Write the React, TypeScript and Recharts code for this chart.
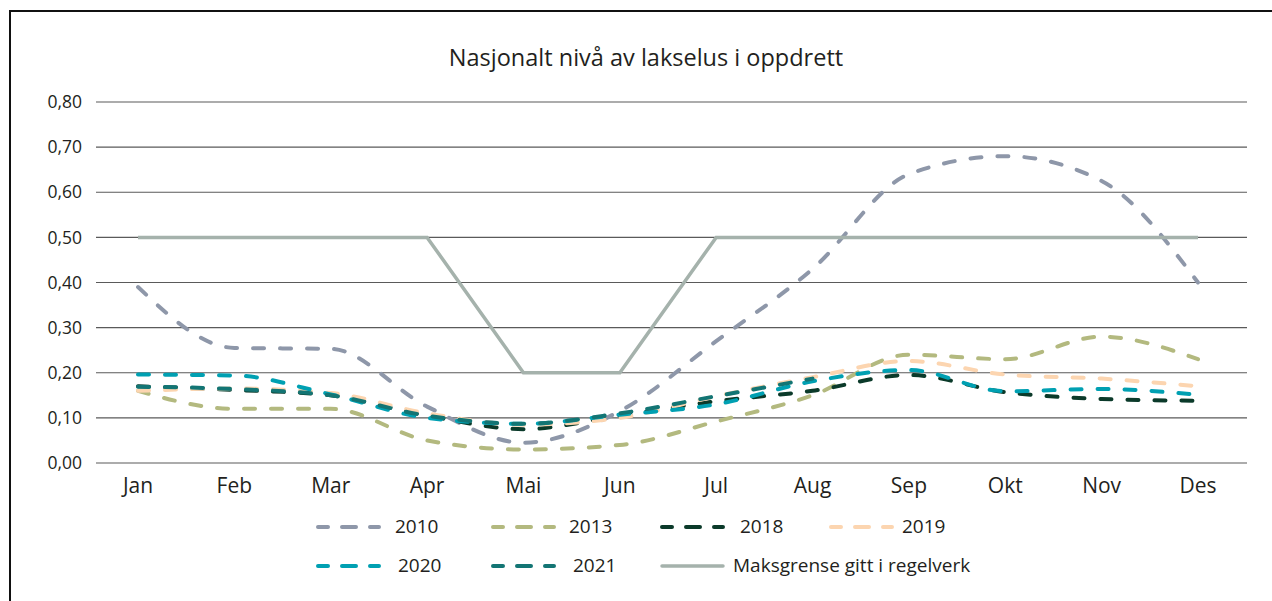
import React from 'react';
import { LineChart, Line, XAxis, YAxis, CartesianGrid } from 'recharts';

const months = ['Jan', 'Feb', 'Mar', 'Apr', 'Mai', 'Jun', 'Jul', 'Aug', 'Sep', 'Okt', 'Nov', 'Des'];
const y2010 = [0.39, 0.255, 0.253, 0.125, 0.045, 0.115, 0.27, 0.43, 0.64, 0.68, 0.625, 0.4];
const y2013 = [0.16, 0.12, 0.12, 0.05, 0.03, 0.04, 0.092, 0.15, 0.24, 0.23, 0.28, 0.23];
const y2018 = [0.17, 0.162, 0.15, 0.105, 0.075, 0.105, 0.137, 0.16, 0.195, 0.157, 0.142, 0.138];
const y2019 = [0.16, 0.165, 0.155, 0.11, 0.085, 0.1, 0.148, 0.19, 0.226, 0.196, 0.187, 0.17];
const y2020 = [0.196, 0.194, 0.152, 0.1, 0.087, 0.107, 0.13, 0.181, 0.206, 0.159, 0.164, 0.151];
const y2021 = [0.169, 0.164, 0.15, 0.105, 0.087, 0.11, 0.148, 0.187, null, null, null, null];
const maksgrense = [0.5, 0.5, 0.5, 0.5, 0.2, 0.2, 0.5, 0.5, 0.5, 0.5, 0.5, 0.5];
const yTicks = [0, 0.1, 0.2, 0.3, 0.4, 0.5, 0.6, 0.7, 0.8];
const title = 'Nasjonalt nivå av lakselus i oppdrett';

const seriesNames = ['2010', '2013', '2018', '2019', '2020', '2021', 'Maksgrense gitt i regelverk'];
const seriesKeys = ['y2010', 'y2013', 'y2018', 'y2019', 'y2020', 'y2021', 'maks'];

const data = months.map((m, i) => ({
  month: m,
  y2010: y2010[i],
  y2013: y2013[i],
  y2018: y2018[i],
  y2019: y2019[i],
  y2020: y2020[i],
  y2021: y2021[i],
  maks: maksgrense[i],
}));

const colors: Record<string, string> = {
  y2010: '#8e97a9',
  y2013: '#b3b97f',
  y2018: '#0b3a2a',
  y2019: '#fcd5b0',
  y2020: '#00a0b2',
  y2021: '#137574',
  maks: '#a5b2ac',
};

// legend layout (page coordinates)
const legendLayout = [
  { sx: 318, tx: 395, cy: 527 },
  { sx: 493, tx: 569, cy: 527 },
  { sx: 662, tx: 740, cy: 527 },
  { sx: 831, tx: 902, cy: 527 },
  { sx: 318, tx: 398, cy: 566 },
  { sx: 493, tx: 573, cy: 566 },
  { sx: 662, tx: 733, cy: 566 },
];

const FONT = '"Open Sans", Lato, sans-serif';
const TEXT = '#231f20';

export default function App() {
  return (
    <div style={{ position: 'relative', width: 1272, height: 601, overflow: 'hidden', fontFamily: FONT, color: TEXT, background: '#fff' }}>
      <style>{'body{margin:0;overflow:hidden;}'}</style>
      <div style={{ position: 'absolute', left: 9, top: 10, width: 1300, height: 700, borderLeft: '2px solid #111', borderTop: '2px solid #111' }} />
      <div style={{ position: 'absolute', left: 0, width: 1292, top: 42, textAlign: 'center', fontSize: 23.5, lineHeight: '30px' }}>{title}</div>
      <div style={{ position: 'absolute', left: 0, top: 0 }}>
        <LineChart width={1272} height={601} data={data} margin={{ top: 102, right: 25, bottom: 108, left: 13 }}>
          <CartesianGrid horizontal vertical={false} stroke="#5a5a5a" strokeWidth={1.2} />
          <XAxis
            dataKey="month"
            interval={0}
            tickLine={false}
            axisLine={false}
            tickMargin={9}
            height={30}
            padding={{ left: 42, right: 49 }}
            tick={{ fill: TEXT, fontSize: 21, fontFamily: FONT }}
          />
          <YAxis
            domain={[0, 0.8]}
            ticks={yTicks}
            width={83}
            tickLine={false}
            axisLine={false}
            tickMargin={8}
            tickFormatter={(v: number) => v.toFixed(2).replace('.', ',')}
            tick={{ fill: TEXT, fontSize: 17.5, fontFamily: FONT }}
          />
          {seriesKeys.slice(0, 6).map((k, i) => (
            <Line
              key={k}
              dataKey={k}
              name={seriesNames[i]}
              type="monotone"
              stroke={colors[k]}
              strokeWidth={4}
              strokeDasharray="11 16"
              strokeLinecap="round"
              dot={false}
              activeDot={false}
              connectNulls={false}
              isAnimationActive={false}
            />
          ))}
          <Line
            dataKey="maks"
            name={seriesNames[6]}
            type="linear"
            stroke={colors.maks}
            strokeWidth={3.5}
            dot={false}
            activeDot={false}
            isAnimationActive={false}
          />
        </LineChart>
      </div>
      {seriesKeys.map((k, i) => {
        const L = legendLayout[i];
        const solid = k === 'maks';
        return (
          <React.Fragment key={k}>
            <svg style={{ position: 'absolute', left: L.sx - 2, top: L.cy - 4 }} width={65} height={8}>
              <line
                x1={2}
                x2={63}
                y1={4}
                y2={4}
                stroke={colors[k]}
                strokeWidth={solid ? 3.5 : 4}
                strokeLinecap="round"
                strokeDasharray={solid ? undefined : '10 14 14 14 10 20'}
              />
            </svg>
            <div style={{ position: 'absolute', left: L.tx, top: L.cy - 15, fontSize: 19, lineHeight: '28px', whiteSpace: 'nowrap' }}>
              {seriesNames[i]}
            </div>
          </React.Fragment>
        );
      })}
    </div>
  );
}
